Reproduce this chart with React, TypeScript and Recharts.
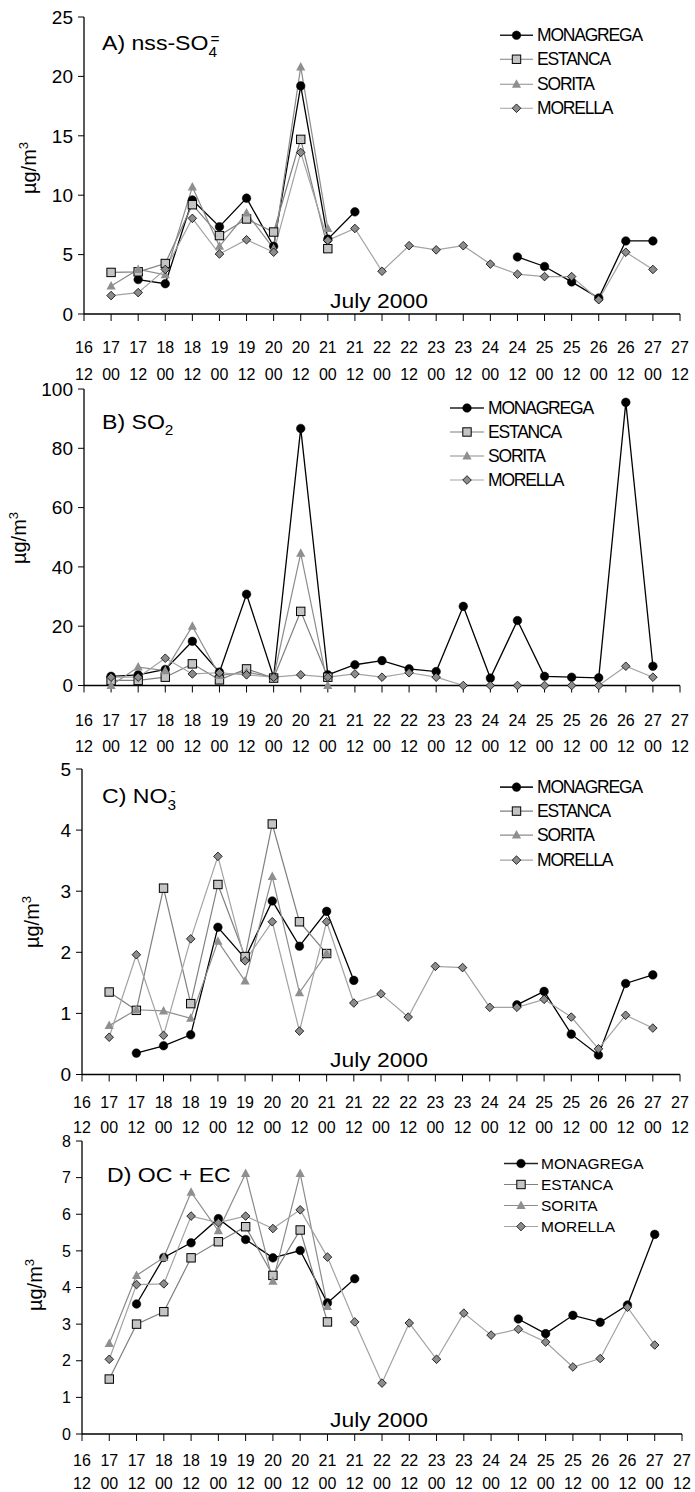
import React from 'react';
import { LineChart, Line, XAxis, YAxis } from 'recharts';

const FONT = "'Liberation Sans', Arial, sans-serif";

// 23 half-day positions (16 12 ... 27 12)
const categories = ['16 12','17 00','17 12','18 00','18 12','19 00','19 12','20 00','20 12','21 00','21 12','22 00','22 12','23 00','23 12','24 00','24 12','25 00','25 12','26 00','26 12','27 00','27 12'];
const tickDays = ['16','17','17','18','18','19','19','20','20','21','21','22','22','23','23','24','24','25','25','26','26','27','27'];
const tickHours = ['12','00','12','00','12','00','12','00','12','00','12','00','12','00','12','00','12','00','12','00','12','00','12'];

const seriesNames = ['MONAGREGA', 'ESTANCA', 'SORITA', 'MORELLA'];

const _ = null;
// A) nss-SO4=
const sulfMonagrega = [_, _, 2.9, 2.55, 9.6, 7.35, 9.75, 5.7, 19.2, 6.3, 8.6, _, _, _, _, _, 4.8, 4.0, 2.7, 1.35, 6.15, 6.15, _];
const sulfEstanca = [_, 3.5, 3.55, 4.25, 9.2, 6.6, 8.0, 6.9, 14.7, 5.5, _, _, _, _, _, _, _, _, _, _, _, _, _];
const sulfSorita = [_, 2.35, 3.75, 3.3, 10.7, 5.7, 8.5, 5.5, 20.8, 7.2, _, _, _, _, _, _, _, _, _, _, _, _, _];
const sulfMorella = [_, 1.55, 1.8, 3.75, 8.05, 5.05, 6.25, 5.2, 13.6, 6.2, 7.2, 3.6, 5.75, 5.4, 5.75, 4.2, 3.35, 3.15, 3.15, 1.2, 5.2, 3.75, _];

// B) SO2
const so2Monagrega = [_, 3.1, 3.6, 5.4, 14.9, 4.5, 30.8, 2.8, 86.7, 3.6, 7.0, 8.4, 5.6, 4.7, 26.7, 2.5, 21.9, 3.1, 2.8, 2.6, 95.5, 6.5, _];
const so2Estanca = [_, 1.7, 1.7, 2.8, 7.3, 1.9, 5.6, 2.5, 25, 2.8, _, _, _, _, _, _, _, _, _, _, _, _, _];
const so2Sorita = [_, 0, 6.2, 5.0, 20, 3.4, 4.5, 2.8, 44.6, 0, _, _, _, _, _, _, _, _, _, _, _, _, _];
const so2Morella = [_, 2.8, 2.8, 9.2, 3.9, 4.3, 3.6, 2.8, 3.6, 2.8, 3.9, 2.8, 4.3, 2.8, 0, 0, 0, 0, 0, 0, 6.5, 2.8, _];

// C) NO3-
const no3Monagrega = [_, _, 0.35, 0.47, 0.65, 2.41, 1.9, 2.84, 2.1, 2.67, 1.54, _, _, _, _, _, 1.14, 1.36, 0.66, 0.32, 1.49, 1.63, _];
const no3Estanca = [_, 1.35, 1.05, 3.05, 1.16, 3.11, 1.93, 4.1, 2.5, 1.98, _, _, _, _, _, _, _, _, _, _, _, _, _];
const no3Sorita = [_, 0.8, 1.06, 1.04, 0.92, 2.18, 1.53, 3.24, 1.34, 1.98, _, _, _, _, _, _, _, _, _, _, _, _, _];
const no3Morella = [_, 0.61, 1.96, 0.64, 2.22, 3.57, 1.86, 2.5, 0.71, 2.5, 1.17, 1.32, 0.94, 1.77, 1.75, 1.1, 1.1, 1.23, 0.94, 0.42, 0.97, 0.76, _];

// D) OC + EC
const ocMonagrega = [_, _, 3.55, 4.82, 5.22, 5.88, 5.31, 4.81, 5.01, 3.58, 4.24, _, _, _, _, _, 3.14, 2.74, 3.24, 3.05, 3.52, 5.45, _];
const ocEstanca = [_, 1.5, 3.0, 3.34, 4.81, 5.25, 5.66, 4.33, 5.57, 3.06, _, _, _, _, _, _, _, _, _, _, _, _, _];
const ocSorita = [_, 2.47, 4.33, 4.82, 6.6, 5.55, 7.11, 4.17, 7.11, 3.48, _, _, _, _, _, _, _, _, _, _, _, _, _];
const ocMorella = [_, 2.04, 4.08, 4.1, 5.95, 5.77, 5.95, 5.61, 6.12, 4.83, 3.06, 1.39, 3.03, 2.04, 3.3, 2.7, 2.86, 2.51, 1.83, 2.06, 3.46, 2.43, _];

const ticksA = [0, 5, 10, 15, 20, 25];
const ticksB = [0, 20, 40, 60, 80, 100];
const ticksC = [0, 1, 2, 3, 4, 5];
const ticksD = [0, 1, 2, 3, 4, 5, 6, 7, 8];

const seriesStyle = [
  { stroke: '#000000', width: 1.3, marker: 'circle' },
  { stroke: '#7f7f7f', width: 1.2, marker: 'square' },
  { stroke: '#8c8c8c', width: 1.2, marker: 'triangle' },
  { stroke: '#a3a3a3', width: 1.2, marker: 'diamond' },
];

function Marker({ kind, cx, cy }: { kind: string; cx: number; cy: number }) {
  if (kind === 'circle') return <circle cx={cx} cy={cy} r={4.3} fill="#000" stroke="#000" strokeWidth={0.5} />;
  if (kind === 'square') return <rect x={cx - 4.2} y={cy - 4.2} width={8.4} height={8.4} fill="#c4c4c4" stroke="#000" strokeWidth={1} />;
  if (kind === 'triangle') return <polygon points={`${cx},${cy - 5} ${cx + 4.6},${cy + 3.5} ${cx - 4.6},${cy + 3.5}`} fill="#8f8f8f" />;
  return <polygon points={`${cx},${cy - 4.3} ${cx + 4.3},${cy} ${cx},${cy + 4.3} ${cx - 4.3},${cy}`} fill="#8c8c8c" stroke="#000" strokeWidth={0.8} />;
}

const makeDot = (kind: string) => (props: any) => {
  const { cx, cy, index } = props;
  if (cx == null || cy == null || Number.isNaN(cx) || Number.isNaN(cy)) return <g key={`n${index}`} />;
  return <g key={`d${index}`}><Marker kind={kind} cx={cx} cy={cy} /></g>;
};

const makeTick = (r1: number, r2: number) => (props: any) => {
  const { x, y, payload } = props;
  const i = categories.indexOf(payload.value);
  return (
    <g transform={`translate(${x},${y})`}>
      <text textAnchor="middle" fontSize={16} fontFamily={FONT} fill="#000">
        <tspan x={0} y={r1}>{tickDays[i]}</tspan>
        <tspan x={0} y={r2}>{tickHours[i]}</tspan>
      </text>
    </g>
  );
};

type PanelCfg = {
  values: (number | null)[][];
  plotTop: number;
  plotBottom: number;
  plotLeft: number;
  plotRight: number;
  yMax: number;
  yTicks: number[];
  yFont: number;
  row1: number;
  row2: number;
};

const panels: PanelCfg[] = [
  { values: [sulfMonagrega, sulfEstanca, sulfSorita, sulfMorella], plotTop: 17, plotBottom: 314, plotLeft: 84, plotRight: 680, yMax: 25, yTicks: ticksA, yFont: 19, row1: 33, row2: 60 },
  { values: [so2Monagrega, so2Estanca, so2Sorita, so2Morella], plotTop: 389, plotBottom: 685.5, plotLeft: 84, plotRight: 680, yMax: 100, yTicks: ticksB, yFont: 19, row1: 35, row2: 61 },
  { values: [no3Monagrega, no3Estanca, no3Sorita, no3Morella], plotTop: 768.5, plotBottom: 1074, plotLeft: 82, plotRight: 680, yMax: 5, yTicks: ticksC, yFont: 19, row1: 28, row2: 53 },
  { values: [ocMonagrega, ocEstanca, ocSorita, ocMorella], plotTop: 1141, plotBottom: 1434, plotLeft: 82, plotRight: 682, yMax: 8, yTicks: ticksD, yFont: 16, row1: 26, row2: 49 },
];

const TOP_PAD = 20;
const BOTTOM_PAD = 72;
const TICK_SIZE = 7;
const TICK_MARGIN = 2;

function Panel({ cfg }: { cfg: PanelCfg }) {
  const plotH = cfg.plotBottom - cfg.plotTop;
  const H = TOP_PAD + plotH + BOTTOM_PAD;
  const data = categories.map((c, i) => {
    const row: any = { cat: c };
    seriesNames.forEach((n, s) => { row[n] = cfg.values[s][i]; });
    return row;
  });
  const off = TICK_SIZE + TICK_MARGIN;
  const r1 = cfg.row1 + 5.7 - off;
  const r2 = cfg.row2 + 5.7 - off;
  return (
    <div style={{ position: 'absolute', left: 0, top: cfg.plotTop - TOP_PAD, width: 695, height: H }}>
      <LineChart width={695} height={H} data={data} margin={{ top: TOP_PAD, right: 695 - cfg.plotRight, bottom: 0, left: cfg.plotLeft - 60 }}>
        <XAxis xAxisId="bottom" dataKey="cat" type="category" interval={0} height={BOTTOM_PAD}
          tickSize={TICK_SIZE} tickMargin={TICK_MARGIN} tick={makeTick(r1, r2)}
          axisLine={{ stroke: '#000', strokeWidth: 1.3 }} tickLine={{ stroke: '#000', strokeWidth: 1 }} />
        <XAxis xAxisId="top" dataKey="cat" type="category" orientation="top" height={0} tick={false} tickLine={false}
          axisLine={{ stroke: '#000', strokeWidth: 1.3 }} />
        <YAxis yAxisId="left" type="number" domain={[0, cfg.yMax]} ticks={cfg.yTicks} interval={0} width={60}
          tickSize={6} tickMargin={5} tick={{ fontSize: cfg.yFont, fill: '#000', fontFamily: FONT }}
          axisLine={{ stroke: '#000', strokeWidth: 1.3 }} tickLine={{ stroke: '#000', strokeWidth: 1 }} />
        <YAxis yAxisId="right" type="number" orientation="right" domain={[0, cfg.yMax]} width={0} tick={false} tickLine={false}
          axisLine={{ stroke: '#000', strokeWidth: 1.3 }} />
        {seriesNames.map((n, s) => (
          <Line key={n} xAxisId="bottom" yAxisId="left" type="linear" dataKey={n} stroke={seriesStyle[s].stroke}
            strokeWidth={seriesStyle[s].width} dot={makeDot(seriesStyle[s].marker)} activeDot={false}
            connectNulls={false} isAnimationActive={false} />
        ))}
      </LineChart>
    </div>
  );
}

type LegendCfg = { left: number; top: number; rowH: number; fontSize: number; letterSpacing: number; iconW: number; gap: number };
const legends: LegendCfg[] = [
  { left: 500, top: 22.5, rowH: 24.5, fontSize: 17.5, letterSpacing: -1.2, iconW: 33, gap: 4 },
  { left: 450, top: 396, rowH: 24, fontSize: 17.5, letterSpacing: -1.2, iconW: 34, gap: 4 },
  { left: 500, top: 775, rowH: 24.2, fontSize: 17.5, letterSpacing: -1.2, iconW: 33, gap: 4 },
  { left: 504, top: 1152.5, rowH: 21, fontSize: 15.5, letterSpacing: 0, iconW: 34, gap: 3 },
];

function LegendBox({ cfg }: { cfg: LegendCfg }) {
  return (
    <div style={{ position: 'absolute', left: cfg.left, top: cfg.top, fontFamily: FONT, fontSize: cfg.fontSize, letterSpacing: cfg.letterSpacing, color: '#000' }}>
      {seriesNames.map((name, s) => (
        <div key={name} style={{ display: 'flex', alignItems: 'center', height: cfg.rowH, whiteSpace: 'nowrap' }}>
          <svg width={cfg.iconW} height={cfg.rowH} style={{ display: 'block' }}>
            <line x1={0} x2={cfg.iconW} y1={cfg.rowH / 2} y2={cfg.rowH / 2} stroke={s === 0 ? '#222' : seriesStyle[s].stroke} strokeWidth={s === 0 ? 1.6 : 1.2} />
            <Marker kind={seriesStyle[s].marker} cx={cfg.iconW / 2} cy={cfg.rowH / 2} />
          </svg>
          <span style={{ marginLeft: cfg.gap, lineHeight: `${cfg.rowH}px` }}>{name}</span>
        </div>
      ))}
    </div>
  );
}

function YLabel({ x, y }: { x: number; y: number }) {
  return (
    <text transform={`translate(${x},${y}) rotate(-90)`} textAnchor="middle" fontSize={20} fontFamily={FONT} fill="#000">
      µg/m<tspan fontSize={13} dy={-8}>3</tspan>
    </text>
  );
}

export default function App() {
  return (
    <div style={{ position: 'absolute', left: 0, top: 0, width: 695, height: 1492, background: '#fff' }}>
      {panels.map((p, i) => <Panel key={i} cfg={p} />)}
      <svg width={695} height={1492} style={{ position: 'absolute', left: 0, top: 0, pointerEvents: 'none' }}>
        <g fontFamily={FONT} fill="#000">
          <text transform="translate(102,50) scale(1.1,1)" fontSize={21}>
            A) nss-SO<tspan fontSize={14} dy={7}>4</tspan><tspan fontSize={14} dx={-6} dy={-13}>=</tspan>
          </text>
          <text transform="translate(102,429) scale(1.1,1)" fontSize={21}>
            B) SO<tspan fontSize={14} dy={6}>2</tspan>
          </text>
          <text transform="translate(102,803) scale(1.1,1)" fontSize={21}>
            C) NO<tspan fontSize={14} dy={7}>3</tspan><tspan fontSize={14} dx={-5} dy={-14}>-</tspan>
          </text>
          <text transform="translate(107,1182) scale(1.1,1)" fontSize={21}>D) OC + EC</text>
          <text transform="translate(330,308) scale(1.09,1)" fontSize={21}>July 2000</text>
          <text transform="translate(330,1066.5) scale(1.09,1)" fontSize={21}>July 2000</text>
          <text transform="translate(330,1426.5) scale(1.09,1)" fontSize={21}>July 2000</text>
        </g>
        <YLabel x={36} y={168} />
        <YLabel x={26} y={538} />
        <YLabel x={39} y={922} />
        <YLabel x={42} y={1285} />
      </svg>
      {legends.map((l, i) => <LegendBox key={i} cfg={l} />)}
    </div>
  );
}
